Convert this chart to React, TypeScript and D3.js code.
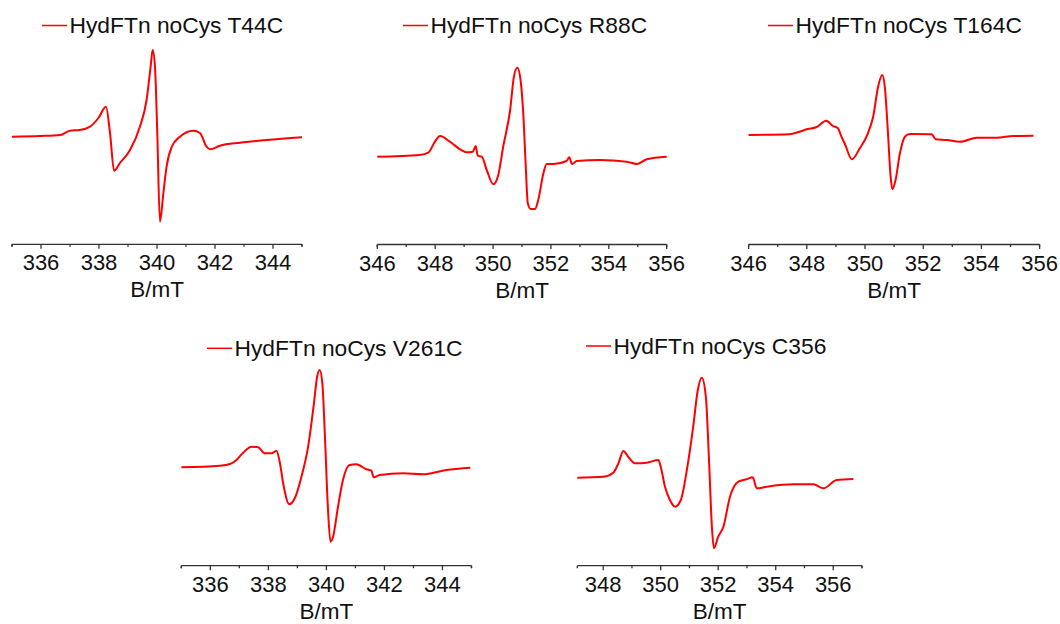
import React from 'react';
import * as d3 from 'd3';

// ---- Data (B in mT, EPR signal in a.u.) ----
const titles = ['HydFTn noCys T44C', 'HydFTn noCys R88C', 'HydFTn noCys T164C', 'HydFTn noCys V261C', 'HydFTn noCys C356'];

const fieldT44C = [335.0, 335.97, 336.66, 337.0, 337.34, 337.69, 337.98, 338.24, 338.38, 338.52, 338.72, 339.07, 339.41, 339.64, 339.78, 339.85, 339.93, 340.01, 340.10, 340.22, 340.33, 340.51, 340.79, 341.25, 341.48, 341.71, 341.83, 342.17, 342.86, 343.78, 345.0];
const sigT44C = [0.3, 1, 2, 6.3, 7, 10.3, 19, 30.3, 4, -33.7, -26, -13, 10.3, 37, 70.3, 87, 70.3, 4, -84.7, -56, -29.7, -9.7, 0.3, 6.3, 4, -9.7, -12.3, -8.7, -5.7, -3, -0.3];

const fieldR88C = [346.0, 347.47, 347.76, 347.99, 348.17, 348.51, 348.86, 349.09, 349.30, 349.40, 349.47, 349.61, 349.78, 350.01, 350.18, 350.35, 350.59, 350.72, 350.84, 350.95, 351.05, 351.13, 351.20, 351.30, 351.45, 351.56, 351.74, 351.85, 352.08, 352.54, 352.63, 352.73, 352.89, 353.70, 354.62, 354.96, 355.31, 356.0];
const sigR88C = [0, 1.7, 4, 15, 20.7, 15, 7.4, 4.4, 5, 10.7, 1, 0, -13.3, -27.6, -18.3, 10, 46.7, 80, 89, 76.7, 40, -10, -46.6, -52.3, -52.3, -43.3, -16.6, -7.3, -7.3, -4.3, -0.6, -7.3, -4.3, -3.3, -5, -7.3, -2.6, 0];

const fieldT164C = [346.0, 347.40, 347.75, 348.03, 348.32, 348.67, 348.90, 349.07, 349.19, 349.30, 349.55, 349.82, 350.10, 350.28, 350.45, 350.59, 350.68, 350.79, 350.88, 350.94, 351.05, 351.20, 351.37, 351.54, 352.29, 352.43, 352.81, 353.27, 353.84, 354.53, 355.10, 355.79];
const sigT164C = [0, 0.7, 3.3, 6, 7.7, 14.3, 9, 6.7, -1.7, -8.3, -24.3, -13.3, 1.7, 18.3, 48.3, 60, 48.3, 1.7, -41.7, -54.3, -45, -18.3, -1.7, 1, 0.7, -4.3, -5, -6.7, -2.7, -2.7, -1, -0.7];

const fieldV261C = [335.0, 336.33, 336.68, 336.90, 337.13, 337.42, 337.65, 337.88, 338.11, 338.28, 338.40, 338.51, 338.72, 338.91, 339.14, 339.37, 339.57, 339.68, 339.77, 339.86, 339.95, 340.05, 340.14, 340.23, 340.40, 340.57, 340.80, 341.03, 341.38, 341.55, 341.63, 341.84, 342.64, 343.33, 344.13, 344.96];
const sigV261C = [0, 1.6, 3.3, 7.3, 14.6, 20.6, 20, 14, 14, 16.6, 4, -16, -37, -31, -9.4, 20.6, 64, 90.6, 97.3, 84, 30.6, -39.4, -74.4, -69.4, -39.4, -12.7, 2.3, 3, -2, -3.4, -10, -7.7, -6, -7, -2.7, -0.4];

const fieldC356 = [347.1, 348.0, 348.35, 348.53, 348.70, 348.87, 349.11, 349.51, 349.92, 350.0, 350.15, 350.32, 350.50, 350.70, 350.91, 351.13, 351.29, 351.43, 351.57, 351.68, 351.78, 351.85, 352.0, 352.18, 352.41, 352.70, 352.99, 353.20, 353.34, 353.69, 354.61, 355.31, 355.66, 356.12, 356.70];
const sigC356 = [0, 1, 5, 14.4, 26.7, 21, 14.4, 15, 17.7, 11, -9, -22.3, -29, -22.3, 7.7, 51, 87.7, 100, 81, 17.7, -49, -70.6, -59, -49, -19, -4, -1.6, 0.4, -10.6, -9, -6.6, -6.6, -10.6, -2.3, -1.3];

const xDomains = [[335, 345], [346, 356], [346, 356], [335, 345], [347.1, 357]];
const yDomains = [[-107.3, 92.7], [-87.8, 112.2], [-109.5, 90.5], [-98.4, 101.6], [-88, 112]];
const xAxisLabel = 'B/mT';

const fields = [fieldT44C, fieldR88C, fieldT164C, fieldV261C, fieldC356];
const signals = [sigT44C, sigR88C, sigT164C, sigV261C, sigC356];

// ---- Layout ----
const layouts = [
  { x0: 12, x1: 302, top: 44.3, axisY: 244.3, legX: 42, legY: 25.5, titleY: 33.3 },
  { x0: 377.3, x1: 666.7, top: 44.5, axisY: 244.5, legX: 403, legY: 25.5, titleY: 33.3 },
  { x0: 748.6, x1: 1039.6, top: 44.5, axisY: 244.5, legX: 768, legY: 25.5, titleY: 33.3 },
  { x0: 181.3, x1: 471.5, top: 365.7, axisY: 565.7, legX: 207, legY: 348.3, titleY: 356 },
  { x0: 577.3, x1: 862, top: 365.7, axisY: 565.7, legX: 586, legY: 346, titleY: 353.7 },
];

const RED = '#ff0000';
const FONT = 'Arial, "Liberation Sans", sans-serif';

function Panel({ i }: { i: number }) {
  const L = layouts[i];
  const x = d3.scaleLinear().domain(xDomains[i]).range([L.x0, L.x1]);
  const y = d3.scaleLinear().domain(yDomains[i]).range([L.axisY, L.top]);
  const pts = fields[i].map((b, k) => [b, signals[i][k]] as [number, number]);
  const line = d3.line<[number, number]>().x(d => x(d[0])).y(d => y(d[1])).curve(d3.curveMonotoneX);
  const [d0, d1] = xDomains[i];
  const ticks = d3.range(Math.ceil(d0), Math.floor(d1) + 1);
  return (
    <g>
      <path d={line(pts) || ''} fill="none" stroke={RED} strokeWidth={2} strokeLinejoin="round" />
      <line x1={L.x0} x2={L.x1} y1={L.axisY} y2={L.axisY} stroke="#333" strokeWidth={1.3} />
      {ticks.map(t => {
        const major = t % 2 === 0;
        return (
          <g key={t}>
            <line x1={x(t)} x2={x(t)} y1={L.axisY} y2={L.axisY + (major ? 4.5 : 2.5)} stroke="#333" strokeWidth={1.3} />
            {major && (
              <text x={x(t)} y={L.axisY + 26} textAnchor="middle" fontSize={22} fontFamily={FONT} fill="#111">{t}</text>
            )}
          </g>
        );
      })}
      <line x1={L.x0} x2={L.x0} y1={L.axisY} y2={L.axisY + 2.5} stroke="#333" strokeWidth={1.3} />
      <line x1={L.x1} x2={L.x1} y1={L.axisY} y2={L.axisY + 2.5} stroke="#333" strokeWidth={1.3} />
      <text x={(L.x0 + L.x1) / 2} y={L.axisY + 53} textAnchor="middle" fontSize={22.5} fontFamily={FONT} fill="#111">{xAxisLabel}</text>
      <line x1={L.legX} x2={L.legX + 25} y1={L.legY} y2={L.legY} stroke={RED} strokeWidth={1.5} />
      <text x={L.legX + 27.5} y={L.titleY} fontSize={22.8} fontFamily={FONT} fill="#111">{titles[i]}</text>
    </g>
  );
}

export default function App() {
  return (
    <svg width={1060} height={624} style={{ position: 'absolute', left: 0, top: 0, background: '#fff' }}>
      <rect width={1060} height={624} fill="#fff" />
      {titles.map((_, i) => <Panel key={i} i={i} />)}
    </svg>
  );
}
